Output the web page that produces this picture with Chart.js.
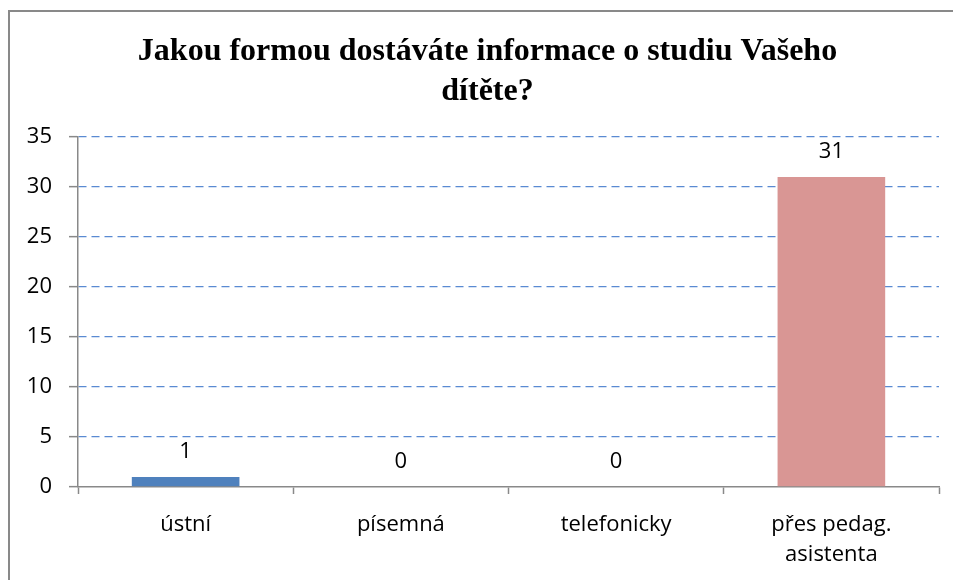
<!DOCTYPE html>
<html>
<head>
<meta charset="utf-8">
<script src="https://cdn.jsdelivr.net/npm/chart.js@4.4.1/dist/chart.umd.min.js"></script>
<style>
  html, body { margin: 0; padding: 0; background: #fff; overflow: hidden; }
  #wrap { width: 953px; height: 580px; overflow: hidden; }
  canvas { display: block; }
</style>
</head>
<body>
<div id="wrap"><canvas id="c" width="975" height="580"></canvas></div>
<script>
const titleLines = ["Jakou formou dostáváte informace o studiu Vašeho", "dítěte?"];
const categories = ["ústní", "písemná", "telefonicky", ["přes pedag.", "asistenta"]];
const values = [1, 0, 0, 31];
const barColors = ["#4F81BD", "#4F81BD", "#4F81BD", "#D99694"];
const yMin = 0, yMax = 35, yStep = 5;

const TEXT_FONT = "'Open Sans', 'Noto Sans', sans-serif";
const AXIS_GRAY = "#898989";
const GRID_BLUE = "#5A8AD2";

const framePlugin = {
  id: 'frame',
  beforeDraw(chart) {
    const ctx = chart.ctx;
    ctx.save();
    ctx.fillStyle = '#ffffff';
    ctx.fillRect(0, 0, chart.width, chart.height);
    ctx.strokeStyle = AXIS_GRAY;
    ctx.lineWidth = 2;
    ctx.strokeRect(9, 11, 2000, 2000);
    // title, centred on the chart frame
    ctx.fillStyle = '#000';
    ctx.font = "bold 32px 'Liberation Serif', 'Times New Roman', serif";
    ctx.textAlign = 'center';
    ctx.textBaseline = 'alphabetic';
    titleLines.forEach((line, i) => ctx.fillText(line, 487.5, 60 + i * 40));
    ctx.restore();
  }
};

const valueLabels = {
  id: 'valueLabels',
  afterDatasetsDraw(chart) {
    const ctx = chart.ctx;
    ctx.save();
    ctx.font = "22px " + TEXT_FONT;
    ctx.fillStyle = '#000';
    ctx.textAlign = 'center';
    ctx.textBaseline = 'alphabetic';
    chart.getDatasetMeta(0).data.forEach((bar, i) => {
      ctx.fillText(String(chart.data.datasets[0].data[i]), bar.x, bar.y - 19);
    });
    ctx.restore();
  }
};

new Chart(document.getElementById('c'), {
  type: 'bar',
  data: {
    labels: categories,
    datasets: [{
      data: values,
      backgroundColor: barColors,
      borderWidth: 0,
      categoryPercentage: 1.0,
      barPercentage: 0.5
    }]
  },
  options: {
    responsive: false,
    animation: false,
    devicePixelRatio: 1,
    layout: { padding: { left: 0, right: 36, top: 137, bottom: 0 } },
    plugins: {
      legend: { display: false },
      tooltip: { enabled: false },
      title: { display: false }
    },
    scales: {
      x: {
        grid: {
          display: true,
          drawOnChartArea: false,
          drawTicks: true,
          tickLength: 7,
          tickColor: AXIS_GRAY,
          tickWidth: 1.5,
          offset: true
        },
        border: { display: true, color: AXIS_GRAY, width: 1.5 },
        ticks: {
          color: '#000',
          padding: 16,
          maxRotation: 0,
          autoSkip: false,
          font: { family: TEXT_FONT, size: 22, lineHeight: '30px' }
        },
        afterFit(scale) { scale.height = 93; }
      },
      y: {
        min: yMin,
        max: yMax,
        ticks: {
          stepSize: yStep,
          color: '#000',
          padding: 17,
          font: { family: TEXT_FONT, size: 22 }
        },
        grid: {
          color: (ctx) => (ctx.tick && ctx.tick.value === 0) ? 'rgba(0,0,0,0)' : GRID_BLUE,
          lineWidth: 1.3,
          tickBorderDash: [],
          tickColor: AXIS_GRAY,
          tickWidth: 1.5,
          tickLength: 9,
          drawTicks: true
        },
        border: { display: true, color: AXIS_GRAY, width: 1.5, dash: [8, 5] },
        afterFit(scale) { scale.width = 78; }
      }
    }
  },
  plugins: [framePlugin, valueLabels]
});
</script>
</body>
</html>
